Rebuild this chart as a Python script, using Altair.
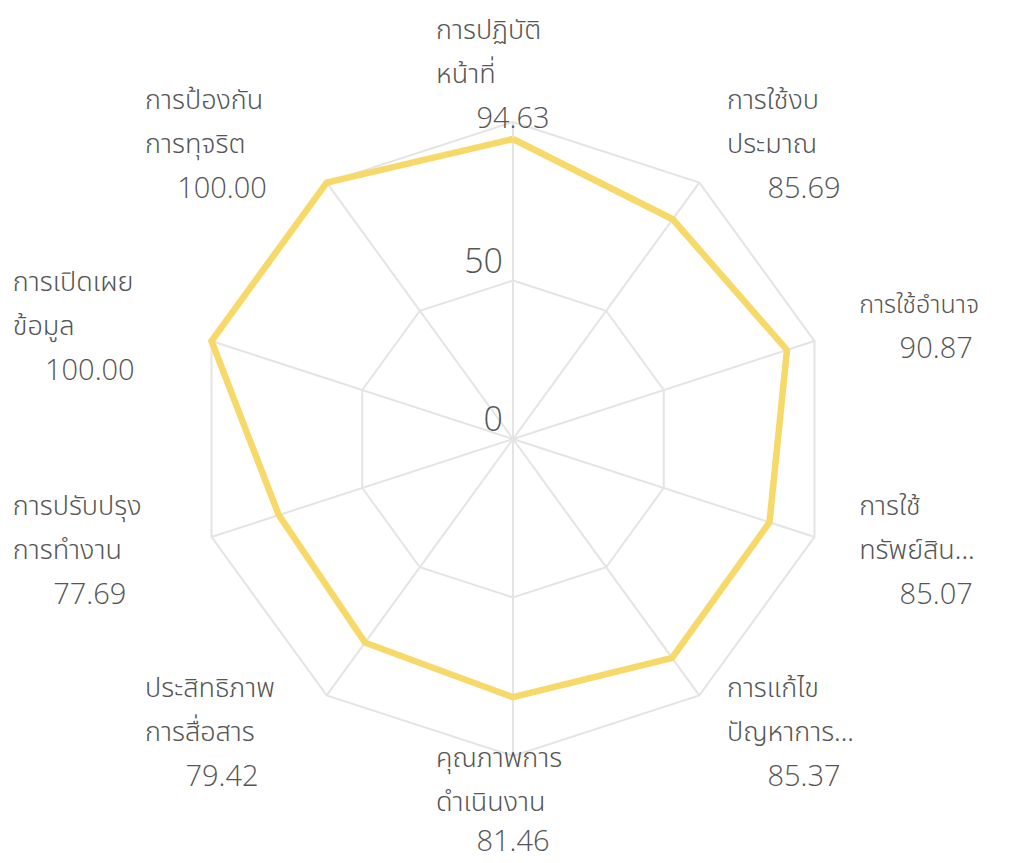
import altair as alt
import pandas as pd

# ---- data ----
label_lines = [
    ["การปฏิบัติ", "หน้าที่"],
    ["การใช้งบ", "ประมาณ"],
    ["การใช้อำนาจ"],
    ["การใช้", "ทรัพย์สิน..."],
    ["การแก้ไข", "ปัญหาการ..."],
    ["คุณภาพการ", "ดำเนินงาน"],
    ["ประสิทธิภาพ", "การสื่อสาร"],
    ["การปรับปรุง", "การทำงาน"],
    ["การเปิดเผย", "ข้อมูล"],
    ["การป้องกัน", "การทุจริต"],
]
values = [94.63, 85.69, 90.87, 85.07, 85.37, 81.46, 79.42, 77.69, 100.00, 100.00]
grid_levels = [50, 100]
tick_levels = [0, 50]

# ---- layout ----
W, H = 997, 852
CX, CY = 505, 431          # centre of the radar inside the plot area (px)
K = 3.17                    # px per unit (100 -> 317 px)
R_LAB = 364 / K             # label anchor radius in units
LH = 44 / K                 # line height in units
HW = 77 / K                 # half label-block width in units
N = len(values)
STEP = f"(2*PI/{N})"

xdom = [-CX / K, (W - CX) / K]
ydom = [-(H - CY) / K, CY / K]
YMIN_TXT = ydom[0] + 18 / K
xs = alt.Scale(domain=xdom, nice=False, zero=False)
ys = alt.Scale(domain=ydom, nice=False, zero=False)

FONT = "Open Sans"
THAI_FONT = "Noto Sans Thai, Open Sans, sans-serif"
TXT = "#555555"

# ---- tables ----
series = pd.DataFrame({
    "i": list(range(N + 1)),
    "idx": [k % N for k in range(N + 1)],
    "v": [values[k % N] for k in range(N + 1)],
})
rings = pd.DataFrame([
    {"level": lv, "i": k, "idx": k % N} for lv in grid_levels for k in range(N + 1)
])
spokes = pd.DataFrame({"idx": list(range(N))})
ticks = pd.DataFrame({"level": tick_levels, "t": [str(t) for t in tick_levels]})

rows = []
for k, (lines, v) in enumerate(zip(label_lines, values)):
    allines = lines + [f"{v:.2f}"]
    n = len(allines)
    for j, t in enumerate(allines):
        rows.append({"idx": k, "j": j, "n": n, "text": t, "isval": int(j == n - 1)})
labels = pd.DataFrame(rows)

polar_x = f"datum.r*sin(datum.idx*{STEP})"
polar_y = f"datum.r*cos(datum.idx*{STEP})"

ring_layer = alt.Chart(rings).transform_calculate(
    r="datum.level"
).transform_calculate(
    px=polar_x, py=polar_y
).mark_line(color="#e4e4e4", strokeWidth=2).encode(
    x=alt.X("px:Q", scale=xs, axis=None),
    y=alt.Y("py:Q", scale=ys, axis=None),
    detail="level:N",
    order="i:Q",
)

spoke_layer = alt.Chart(spokes).transform_calculate(
    r="100", x0="0", y0="0"
).transform_calculate(
    px=polar_x, py=polar_y
).mark_rule(color="#e4e4e4", strokeWidth=2).encode(
    x=alt.X("x0:Q", scale=xs, axis=None),
    y=alt.Y("y0:Q", scale=ys, axis=None),
    x2="px:Q",
    y2="py:Q",
)

series_layer = alt.Chart(series).transform_calculate(
    r="datum.v"
).transform_calculate(
    px=polar_x, py=polar_y
).mark_line(color="#f7d96a", strokeWidth=6.5, strokeJoin="miter").encode(
    x=alt.X("px:Q", scale=xs, axis=None),
    y=alt.Y("py:Q", scale=ys, axis=None),
    order="i:Q",
)

tick_layer = alt.Chart(ticks).transform_calculate(
    x0="0"
).mark_text(
    align="right", baseline="middle", dx=-10, dy=-18,
    font=FONT, fontSize=34, fontWeight=300, color=TXT,
).encode(
    x=alt.X("x0:Q", scale=xs, axis=None),
    y=alt.Y("level:Q", scale=ys, axis=None),
    text="t:N",
)

lab_base = alt.Chart(labels).transform_calculate(
    s=f"sin(datum.idx*{STEP})",
    c=f"cos(datum.idx*{STEP})",
).transform_calculate(
    side="abs(datum.s) < 0.1 ? 0 : (datum.s > 0 ? 1 : -1)",
).transform_calculate(
    px=f"{R_LAB}*datum.s + (datum.isval == 1 ? datum.side*{HW} : (datum.side-1)*{HW})",
    py=f"max({YMIN_TXT}, {R_LAB}*datum.c - (datum.j - (datum.n-1)/2)*{LH})",
    # single-line labels sit where there is less room: a slightly smaller font
    fs="datum.n == 2 ? 25 : 27",
)

lab_text = lab_base.transform_filter("datum.isval == 0").mark_text(
    align="left", baseline="middle",
    font=THAI_FONT, fontWeight=300, color=TXT,
).encode(
    x=alt.X("px:Q", scale=xs, axis=None),
    y=alt.Y("py:Q", scale=ys, axis=None),
    text="text:N",
    size=alt.Size("fs:Q", scale=None, legend=None),
)

val_text = lab_base.transform_filter("datum.isval == 1").mark_text(
    align="center", baseline="middle",
    font=FONT, fontSize=29, fontWeight=300, color=TXT,
).encode(
    x=alt.X("px:Q", scale=xs, axis=None),
    y=alt.Y("py:Q", scale=ys, axis=None),
    text="text:N",
)

chart = alt.layer(
    ring_layer, spoke_layer, series_layer, tick_layer, lab_text, val_text
).properties(
    width=W, height=H, padding=0,
    autosize=alt.AutoSizeParams(type="none"),
    background="white",
).configure_view(stroke=None)

chart.save("out.html", embed_options={"renderer": "svg", "actions": False})
